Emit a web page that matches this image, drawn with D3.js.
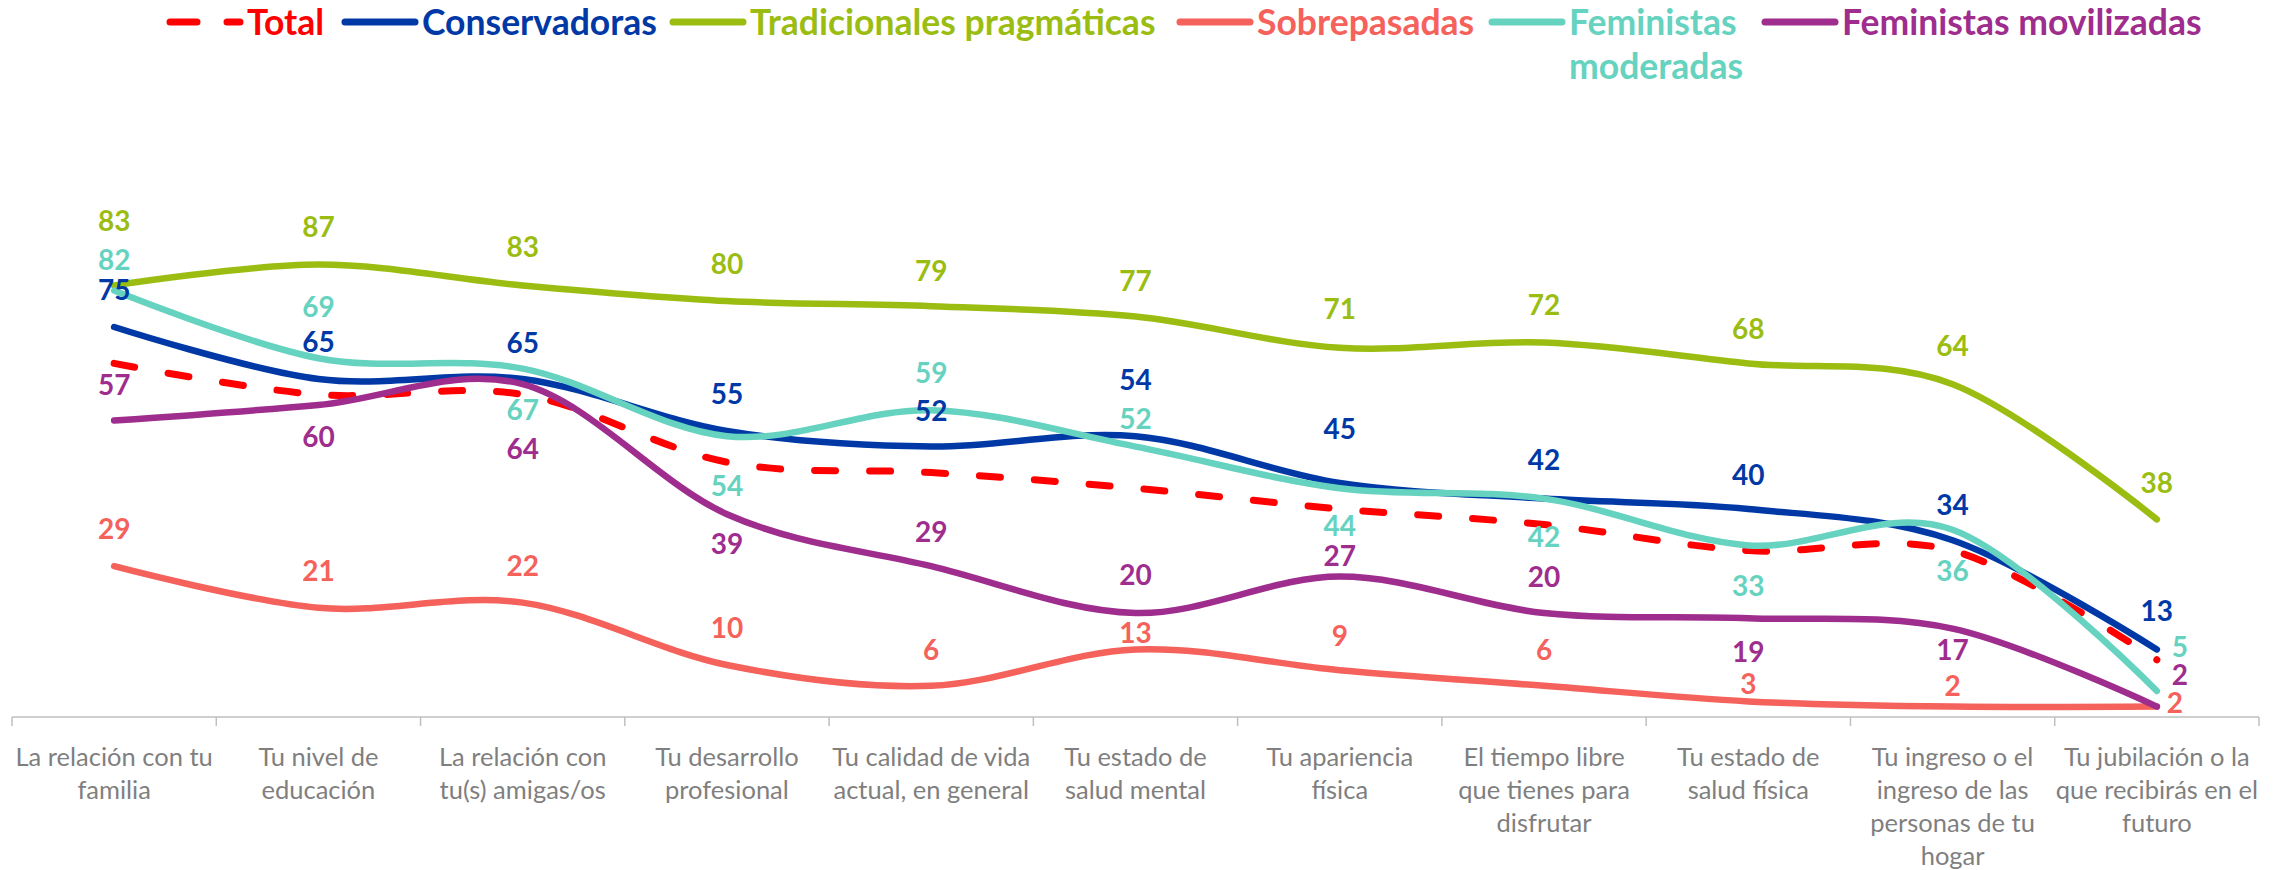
<!DOCTYPE html>
<html>
<head>
<meta charset="utf-8">
<script src="https://cdn.jsdelivr.net/npm/d3@7"></script>
<style>
  body { margin: 0; background: #fff; }
  svg { display: block; }
</style>
</head>
<body>
<div id="viz-container"></div>
<script>
let vizWidth = 2290;
let vizHeight = 870;

// categories (line breaks as in the original)
let categories = [
    "La relación con tu\nfamilia",
    "Tu nivel de\neducación",
    "La relación con\ntu(s) amigas/os",
    "Tu desarrollo\nprofesional",
    "Tu calidad de vida\nactual, en general",
    "Tu estado de\nsalud mental",
    "Tu apariencia\nfísica",
    "El tiempo libre\nque tienes para\ndisfrutar",
    "Tu estado de\nsalud física",
    "Tu ingreso o el\ningreso de las\npersonas de tu\nhogar",
    "Tu jubilación o la\nque recibirás en el\nfuturo"
];

// series values
let total         = [68, 62, 62, 49, 47, 44, 40, 37, 32, 32, 11];
let conservadoras = [75, 65, 65, 55, 52, 54, 45, 42, 40, 34, 13];
let tradicionales = [83, 87, 83, 80, 79, 77, 71, 72, 68, 64, 38];
let sobrepasadas  = [29, 21, 22, 10, 6, 13, 9, 6, 3, 2, 2];
let moderadas     = [82, 69, 67, 54, 59, 52, 44, 42, 33, 36, 5];
let movilizadas   = [57, 60, 64, 39, 29, 20, 27, 20, 19, 17, 2];

let legendNames = ["Total", "Conservadoras", "Tradicionales pragmáticas", "Sobrepasadas", "Feministas\nmoderadas", "Feministas movilizadas"];

// styles
let colors = ["#ff0000", "#0039a6", "#9bbd12", "#f5615b", "#66d2c0", "#9e2d8e"];

// data label offsets from the point (px), Excel labels were placed by hand
let labelDy = [
    null,
    [-37, -37, -36, -37, -36, -56, -54, -39, -34, -35, -38],
    [-64, -38, -38, -37, -35, -36, -39, -38, -34, -38, -36],
    [-37, -37, -37, -37, -36, -16, -34, -36, -17, -21, -4],
    [-31, -51, 41, 50, -37, -28, 38, 38, 41, 41, -44],
    [-36, 32, 65, 30, -34, -38, -21, -36, 34, 21, -32]
];
let lastLabelDx = [0, 0, 0, 18, 23, 23];

let legendX = [170, 345, 673, 1180, 1492, 1765];

let series = [total, conservadoras, tradicionales, sobrepasadas, moderadas, movilizadas].map(function(v, i){
    return { name: legendNames[i], values: v, color: colors[i], dy: labelDy[i], dx: lastLabelDx[i] };
});

let viz = d3.select("#viz-container")
                .append("svg")
                    .attr("id", "viz")
                    .attr("width", vizWidth)
                    .attr("height", vizHeight)
                    .style("background-color", "white")
;

let xScale = d3.scaleBand().domain(d3.range(categories.length)).range([12, 2259]).padding(0);
let yScale = d3.scaleLinear().domain([0, 100]).range([717, 197]);

function cx(i){ return xScale(i) + xScale.bandwidth() / 2; }

// axis
let axisG = viz.append("g").attr("class", "axis");
axisG.append("line")
    .attr("x1", xScale.range()[0]).attr("x2", xScale.range()[1])
    .attr("y1", yScale(0)).attr("y2", yScale(0))
    .attr("stroke", "#bfbfbf").attr("stroke-width", 1.5)
;
let boundaries = d3.range(categories.length + 1).map(function(i){ return xScale.range()[0] + i * xScale.step(); });
axisG.selectAll(".tick").data(boundaries).enter().append("line")
    .attr("class", "tick")
    .attr("x1", function(d){ return d; }).attr("x2", function(d){ return d; })
    .attr("y1", yScale(0)).attr("y2", yScale(0) + 9)
    .attr("stroke", "#bfbfbf").attr("stroke-width", 1.5)
;
let catLabels = axisG.selectAll(".cat").data(categories).enter().append("text")
    .attr("class", "cat")
    .attr("text-anchor", "middle")
    .style("font-family", "Lato, 'Open Sans', sans-serif")
    .style("font-size", "25.5px")
    .attr("fill", "#7f7f7f")
;
catLabels.each(function(d, i){
    let t = d3.select(this);
    d.split("\n").forEach(function(line, k){
        t.append("tspan").attr("x", cx(i)).attr("y", 766 + k * 33).text(line);
    });
});

// lines
let lineGen = d3.line()
    .x(function(d, i){ return cx(i); })
    .y(function(d){ return yScale(d); })
    .curve(d3.curveCardinal.tension(0))
;

viz.selectAll(".series").data(series).enter().append("path")
    .attr("class", "series")
    .attr("d", function(d){ return lineGen(d.values); })
    .attr("fill", "none")
    .attr("stroke", function(d){ return d.color; })
    .attr("stroke-width", function(d, i){ return i == 0 ? 7 : 6.5; })
    .attr("stroke-linecap", "round")
    .attr("stroke-linejoin", "round")
    .attr("stroke-dasharray", function(d, i){ return i == 0 ? "21 34" : null; })
;

// data labels
series.forEach(function(s){
    if (!s.dy) return;
    viz.append("g").selectAll("text").data(s.values).enter().append("text")
        .attr("x", function(d, i){ return cx(i) + (i == s.values.length - 1 ? s.dx : 0); })
        .attr("y", function(d, i){ return yScale(d) + s.dy[i]; })
        .attr("dy", "0.36em")
        .attr("text-anchor", "middle")
        .style("font-family", "Lato, 'Open Sans', sans-serif")
        .style("font-weight", "bold")
        .style("font-size", "28px")
        .attr("fill", s.color)
        .text(function(d){ return d; })
    ;
});

// legend
let legend = viz.selectAll(".legend").data(series).enter().append("g")
    .attr("class", "legend")
    .attr("transform", function(d, i){ return "translate(" + legendX[i] + ", 22)"; })
;
legend.append("line")
    .attr("x1", 0).attr("x2", 70).attr("y1", 0).attr("y2", 0)
    .attr("stroke", function(d){ return d.color; })
    .attr("stroke-width", 7)
    .attr("stroke-linecap", "round")
    .attr("stroke-dasharray", function(d, i){ return i == 0 ? "27 30" : null; })
;
let legendText = legend.append("text")
    .style("font-family", "Lato, 'Open Sans', sans-serif")
    .style("font-weight", "bold")
    .style("font-size", "35.5px")
    .attr("fill", function(d){ return d.color; })
;
legendText.each(function(d){
    let t = d3.select(this);
    d.name.split("\n").forEach(function(line, k){
        t.append("tspan").attr("x", 77).attr("y", 12.5 + k * 44).text(line);
    });
});
</script>
</body>
</html>
